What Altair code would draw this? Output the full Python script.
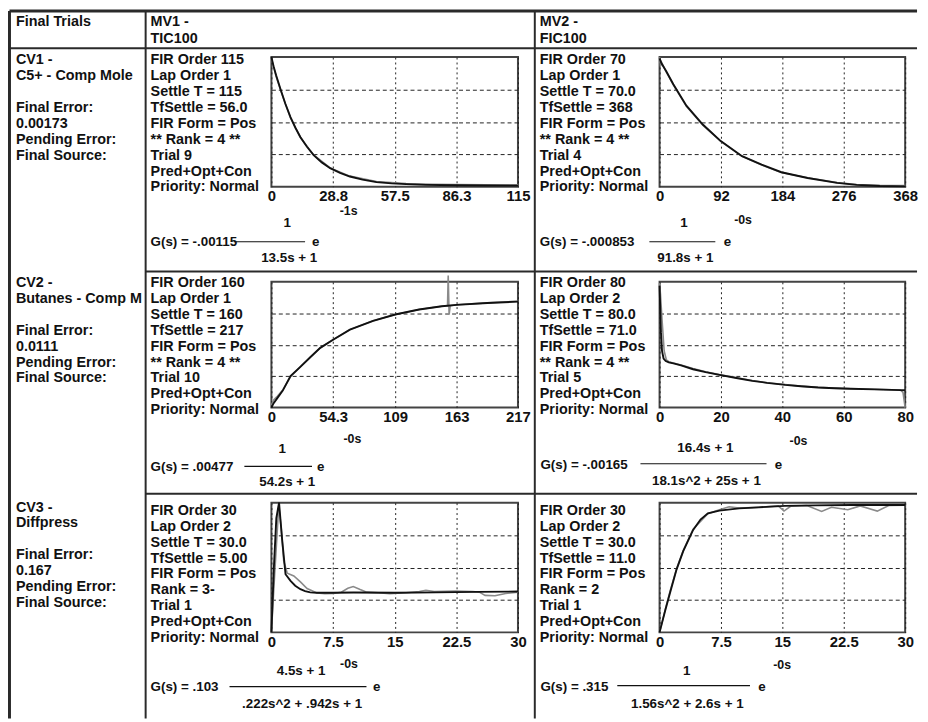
import altair as alt
import pandas as pd

FONT = "Liberation Sans"
INK = "#111111"
LINE = "#2a2a2a"
GRAY = "#8a8a8a"

# ---------------- text content ----------------
corner_label = "Final Trials"
mv_headers = [["MV1 -", "TIC100"], ["MV2 -", "FIC100"]]
cv_names = [["CV1 -", "C5+ - Comp Mole"], ["CV2 -", "Butanes - Comp M"], ["CV3 -", "Diffpress"]]
cv_errors = [
    ["Final Error:", "0.00173", "Pending Error:", "Final Source:"],
    ["Final Error:", "0.0111", "Pending Error:", "Final Source:"],
    ["Final Error:", "0.167", "Pending Error:", "Final Source:"],
]
info_A = ["FIR Order 115", "Lap Order 1", "Settle T = 115", "TfSettle = 56.0", "FIR Form = Pos",
          "** Rank = 4 **", "Trial 9", "Pred+Opt+Con", "Priority: Normal"]
info_B = ["FIR Order 70", "Lap Order 1", "Settle T = 70.0", "TfSettle = 368", "FIR Form = Pos",
          "** Rank = 4 **", "Trial 4", "Pred+Opt+Con", "Priority: Normal"]
info_C = ["FIR Order 160", "Lap Order 1", "Settle T = 160", "TfSettle = 217", "FIR Form = Pos",
          "** Rank = 4 **", "Trial 10", "Pred+Opt+Con", "Priority: Normal"]
info_D = ["FIR Order 80", "Lap Order 2", "Settle T = 80.0", "TfSettle = 71.0", "FIR Form = Pos",
          "** Rank = 4 **", "Trial 5", "Pred+Opt+Con", "Priority: Normal"]
info_E = ["FIR Order 30", "Lap Order 2", "Settle T = 30.0", "TfSettle = 5.00", "FIR Form = Pos",
          "Rank = 3-", "Trial 1", "Pred+Opt+Con", "Priority: Normal"]
info_F = ["FIR Order 30", "Lap Order 2", "Settle T = 30.0", "TfSettle = 11.0", "FIR Form = Pos",
          "Rank = 2", "Trial 1", "Pred+Opt+Con", "Priority: Normal"]

gain_A, num_A, den_A, dead_A = "G(s) = -.00115", "1", "13.5s + 1", "-1s"
gain_B, num_B, den_B, dead_B = "G(s) = -.000853", "1", "91.8s + 1", "-0s"
gain_C, num_C, den_C, dead_C = "G(s) = .00477", "1", "54.2s + 1", "-0s"
gain_D, num_D, den_D, dead_D = "G(s) = -.00165", "16.4s + 1", "18.1s^2 + 25s + 1", "-0s"
gain_E, num_E, den_E, dead_E = "G(s) = .103", "4.5s + 1", ".222s^2 + .942s + 1", "-0s"
gain_F, num_F, den_F, dead_F = "G(s) = .315", "1", "1.56s^2 + 2.6s + 1", "-0s"

# ---------------- axis ticks ----------------
ticks_A = [0, 28.8, 57.5, 86.3, 115]
ticks_B = [0, 92, 184, 276, 368]
ticks_C = [0, 54.3, 109, 163, 217]
ticks_D = [0, 20, 40, 60, 80]
ticks_E = [0, 7.5, 15, 22.5, 30]
ticks_F = [0, 7.5, 15, 22.5, 30]
grid_y = [0.25, 0.5, 0.75]

# ---------------- curves (normalised response) ----------------
tA_mod = [0, 1, 2.2, 4.3, 6.5, 8.9, 11.2, 13.5, 16.5, 19.7, 23.5, 27.4, 32, 36.6, 42.5, 49, 56, 62.8, 72, 86, 100, 115]
vA_mod = [1.0, 0.93, 0.86, 0.75, 0.64, 0.537, 0.455, 0.384, 0.31, 0.244, 0.188, 0.143, 0.108, 0.079,
          0.055, 0.036, 0.026, 0.02, 0.015, 0.012, 0.01, 0.009]
tA_fir = [0, 2.2, 4.3, 8.9, 13.5, 19.7, 27.4, 36.6, 49, 62.8, 75, 86, 100, 115]
vA_fir = [0.99, 0.85, 0.745, 0.53, 0.38, 0.245, 0.145, 0.082, 0.04, 0.025, 0.02, 0.018, 0.016, 0.015]

tB_mod = [0, 3, 10, 20.6, 40.2, 64.8, 91.7, 123.6, 153, 182.5, 221.8, 266, 295.4, 330, 368]
vB_mod = [0.99, 0.95, 0.89, 0.79, 0.625, 0.48, 0.352, 0.236, 0.17, 0.112, 0.068, 0.03, 0.015, 0.006, 0.003]
tB_fir = [0, 1.5, 3, 10, 20.6, 40.2, 64.8, 91.7, 123.6, 153, 182.5, 221.8, 266, 295.4, 330, 368]
vB_fir = [1.0, 0.93, 0.96, 0.885, 0.785, 0.62, 0.475, 0.35, 0.235, 0.167, 0.11, 0.069, 0.032, 0.018, 0.012, 0.01]

tC_mod = [0, 2, 5.2, 10, 16.8, 25, 34.2, 43, 54.3, 69.1, 89.5, 109, 130, 150, 163, 190, 217]
vC_mod = [0, 0.035, 0.075, 0.135, 0.25, 0.32, 0.4, 0.475, 0.54, 0.62, 0.69, 0.74, 0.78, 0.806, 0.817, 0.832, 0.843]
tC_fir = [0, 2, 5.2, 10, 16.8, 25, 34.2, 43, 54.3, 69.1, 89.5, 109, 130, 150, 155, 155.6, 156.4, 157.4,
          163, 190, 217]
vC_fir = [0.02, 0.06, 0.09, 0.14, 0.245, 0.32, 0.4, 0.475, 0.54, 0.62, 0.69, 0.74, 0.78, 0.806, 0.81,
          1.05, 0.74, 0.81, 0.818, 0.833, 0.845]

tD_mod = [0, 0.2, 0.45, 0.8, 1.3, 2, 3, 4.5, 7, 10.9, 15, 19.5, 25, 30.2, 35, 40.9, 46, 51.6, 57, 62.3,
          70, 78.4, 80]
vD_mod = [0.97, 0.8, 0.6, 0.45, 0.39, 0.37, 0.36, 0.352, 0.335, 0.305, 0.282, 0.26, 0.235, 0.213, 0.197,
          0.181, 0.17, 0.16, 0.154, 0.15, 0.145, 0.139, 0.138]
tD_fir = [0, 0.3, 0.8, 1.5, 2.2, 3, 4.5, 7, 10.9, 15, 19.5, 25, 30.2, 35, 40.9, 46, 51.6, 57, 62.3, 70,
          78.4, 79.3, 80]
vD_fir = [0.99, 0.9, 0.7, 0.45, 0.38, 0.365, 0.355, 0.338, 0.31, 0.285, 0.262, 0.237, 0.215, 0.198, 0.183,
          0.171, 0.162, 0.155, 0.15, 0.146, 0.14, 0.12, 0.0]

tE_mod = [0, 0.3, 0.6, 0.93, 1.3, 1.72, 2.33, 2.9, 3.53, 4.1, 4.73, 5.5, 7.5, 10, 15, 20, 25, 30]
vE_mod = [0, 0.5, 0.88, 1.0, 0.72, 0.448, 0.397, 0.36, 0.333, 0.318, 0.308, 0.305, 0.305, 0.307, 0.305,
          0.308, 0.312, 0.315]
tE_fir = [0, 0.4, 0.9, 1.2, 1.5, 1.93, 2.73, 3.53, 4.34, 5.54, 6.5, 7.55, 8.5, 9.3, 9.96, 10.8, 11.6, 13,
          14.4, 16.4, 18, 18.8, 19.8, 22.4, 24.5, 25.3, 26, 27.2, 28.5, 30]
vE_fir = [0, 0.45, 0.98, 0.8, 0.55, 0.456, 0.435, 0.389, 0.338, 0.303, 0.298, 0.3, 0.31, 0.34, 0.353, 0.33,
          0.31, 0.305, 0.298, 0.305, 0.315, 0.325, 0.315, 0.318, 0.315, 0.31, 0.285, 0.282, 0.3, 0.31]

tF_mod = [0, 0.69, 1.29, 2.08, 2.89, 3.5, 4.1, 5, 5.9, 7.31, 9.72, 12.1, 15.3, 19, 23.4, 27, 30]
vF_mod = [0, 0.168, 0.308, 0.486, 0.626, 0.71, 0.79, 0.87, 0.918, 0.939, 0.956, 0.964, 0.975, 0.979,
          0.982, 0.982, 0.982]
tF_fir = [0, 0.69, 1.29, 2.08, 2.89, 4.1, 5.9, 7.31, 8.5, 9.72, 12.1, 14.5, 15.2, 16, 18, 19.8, 21, 23,
          24.5, 26.6, 28, 30]
vF_fir = [0, 0.175, 0.32, 0.49, 0.63, 0.795, 0.915, 0.945, 0.968, 0.958, 0.965, 0.975, 0.935, 0.972,
          0.978, 0.932, 0.965, 0.945, 0.975, 0.935, 0.978, 0.98]

# ---------------- helpers ----------------
ONE = pd.DataFrame({"k": [0]})
INFO_SIZE = 14.5
LH = 16.05


def put_text(text, px, py, origin, size=INFO_SIZE, align="left", lh=LH):
    ox, oy = origin
    return alt.Chart(ONE).mark_text(
        text=text, align=align, baseline="alphabetic", font=FONT, fontSize=size,
        fontWeight="bold", color=INK, lineHeight=lh
    ).encode(x=alt.value(px - ox), y=alt.value(py - oy))


def put_rule(x1, y1, x2, y2, origin, width=1.0, color=INK):
    ox, oy = origin
    return alt.Chart(ONE).mark_rule(color=color, strokeWidth=width).encode(
        x=alt.value(x1 - ox), y=alt.value(y1 - oy), x2=alt.value(x2 - ox), y2=alt.value(y2 - oy)
    )


def cv_block(i, px, py, origin):
    return [put_text(cv_names[i], px, py, origin), put_text(cv_errors[i], px, py + 3 * LH, origin)]


def formula(origin, gain, num, den, dead, g, bar, e, n, d, dn):
    return [
        put_text(gain, g[0], g[1], origin, size=13.5),
        put_rule(bar[0], bar[2], bar[1], bar[2], origin, width=1.2),
        put_text("e", e[0], e[1], origin, size=13.5),
        put_text(num, n[0], n[1], origin, size=13.5, align="center"),
        put_text(dead, d[0], d[1], origin, size=12.5),
        put_text(den, dn[0], dn[1], origin, size=13.5, align="center"),
    ]


def cell(t_fir, v_fir, t_mod, v_mod, xmax, ticks, w, h, extras):
    xenc = alt.X("t:Q", scale=alt.Scale(domain=[0, xmax], nice=False, zero=False),
                 axis=alt.Axis(values=ticks, format=".4~g", title=None, ticks=False, domain=False,
                               labelFont=FONT, labelFontSize=15, labelFontWeight="bold",
                               labelColor=INK, labelPadding=2, labelOverlap=False, labelFlush=False,
                               grid=True, gridDash=[2, 3], gridColor="#222222", gridWidth=1))
    yenc = alt.Y("v:Q", scale=alt.Scale(domain=[0, 1], nice=False, zero=False),
                 axis=alt.Axis(values=grid_y, labels=False, ticks=False, domain=False, title=None,
                               grid=True, gridDash=[4, 3], gridColor="#222222", gridWidth=1))
    fir = alt.Chart(pd.DataFrame({"t": t_fir, "v": v_fir})).mark_line(
        color=GRAY, strokeWidth=1.6).encode(x=xenc, y=yenc)
    mod = alt.Chart(pd.DataFrame({"t": t_mod, "v": v_mod})).mark_line(
        color=INK, strokeWidth=1.9).encode(x=xenc, y=yenc)
    return alt.layer(fir, mod, *extras).properties(width=w, height=h)


# plot origins on the page (layout)
oA, oB = (274, 56), (666, 56)
oC, oD = (274, 283), (666, 283)
oE, oF = (274, 506), (666, 506)
W1, W2 = 249, 248
H1, H2, H3 = 131, 127, 131

table = [
    put_rule(9.5, 9.5, 926, 9.5, oA, width=3, color=LINE),
    put_rule(9.5, 9.5, 9.5, 724, oA, width=3, color=LINE),
    put_rule(9.5, 47, 926, 47, oA, width=2, color=LINE),
    put_rule(147, 9.5, 147, 724, oA, width=2, color=LINE),
    put_rule(540, 9.5, 540, 724, oA, width=2, color=LINE),
    put_rule(147, 272.5, 926, 272.5, oA, width=2, color=LINE),
    put_rule(147, 497, 926, 497, oA, width=2, color=LINE),
]
header = [
    put_text(corner_label, 16, 25, oA),
    put_text(mv_headers[0], 152, 25, oA, lh=16.5),
    put_text(mv_headers[1], 545, 25, oA, lh=16.5),
]

extras_A = table + header + cv_block(0, 16, 63.3, oA) + [put_text(info_A, 152, 63.3, oA)] + \
    formula(oA, gain_A, num_A, den_A, dead_A, (152, 247), (236, 308, 242.5), (315, 247),
            (290, 228), (343, 215), (292, 262.7))
extras_B = [put_text(info_B, 545, 63.3, oB)] + \
    formula(oB, gain_B, num_B, den_B, dead_B, (545, 247), (655.7, 722.3, 242.5), (730.7, 247),
            (690.7, 228), (741.3, 225), (692, 262.7))
extras_C = cv_block(1, 16, 288.3, oC) + [put_text(info_C, 152, 288.3, oC)] + \
    formula(oC, gain_C, num_C, den_C, dead_C, (152, 474), (246.7, 315, 469.3), (320, 474),
            (285, 456), (346.7, 446), (290, 489))
extras_D = [put_text(info_D, 545, 288.3, oD)] + \
    formula(oD, gain_D, num_D, den_D, dead_D, (545.7, 471.7), (646.7, 774, 466.7), (782.3, 471.7),
            (712.3, 455), (797.3, 448), (713.3, 488))
extras_E = cv_block(2, 16, 515, oE) + [put_text(info_E, 152, 518.3, oE)] + \
    formula(oE, gain_E, num_E, den_E, dead_E, (152, 696.7), (231.7, 370, 691.7), (376.7, 696.7),
            (304, 680), (343.3, 673.3), (305, 713))
extras_F = [put_text(info_F, 545, 518.3, oF)] + \
    formula(oF, gain_F, num_F, den_F, dead_F, (545.7, 696), (623.3, 757.3, 690.7), (765.7, 696),
            (693.3, 680), (780.7, 674), (694, 713))

A = cell(tA_fir, vA_fir, tA_mod, vA_mod, 115, ticks_A, W1, H1, extras_A)
B = cell(tB_fir, vB_fir, tB_mod, vB_mod, 368, ticks_B, W2, H1, extras_B)
C = cell(tC_fir, vC_fir, tC_mod, vC_mod, 217, ticks_C, W1, H2, extras_C)
D = cell(tD_fir, vD_fir, tD_mod, vD_mod, 80, ticks_D, W2, H2, extras_D)
E = cell(tE_fir, vE_fir, tE_mod, vE_mod, 30, ticks_E, W1, H3, extras_E)
F = cell(tF_fir, vF_fir, tF_mod, vF_mod, 30, ticks_F, W2, H3, extras_F)

chart = alt.concat(
    A, B, C, D, E, F, columns=2, spacing={"row": 96, "column": 143}, bounds="flush", align="each"
).properties(
    padding={"top": -3, "left": -1, "right": 0, "bottom": 0}, background="white"
).configure_view(stroke="#444444", strokeWidth=2)

chart.save("out.html", embed_options={"renderer": "svg", "actions": False})
